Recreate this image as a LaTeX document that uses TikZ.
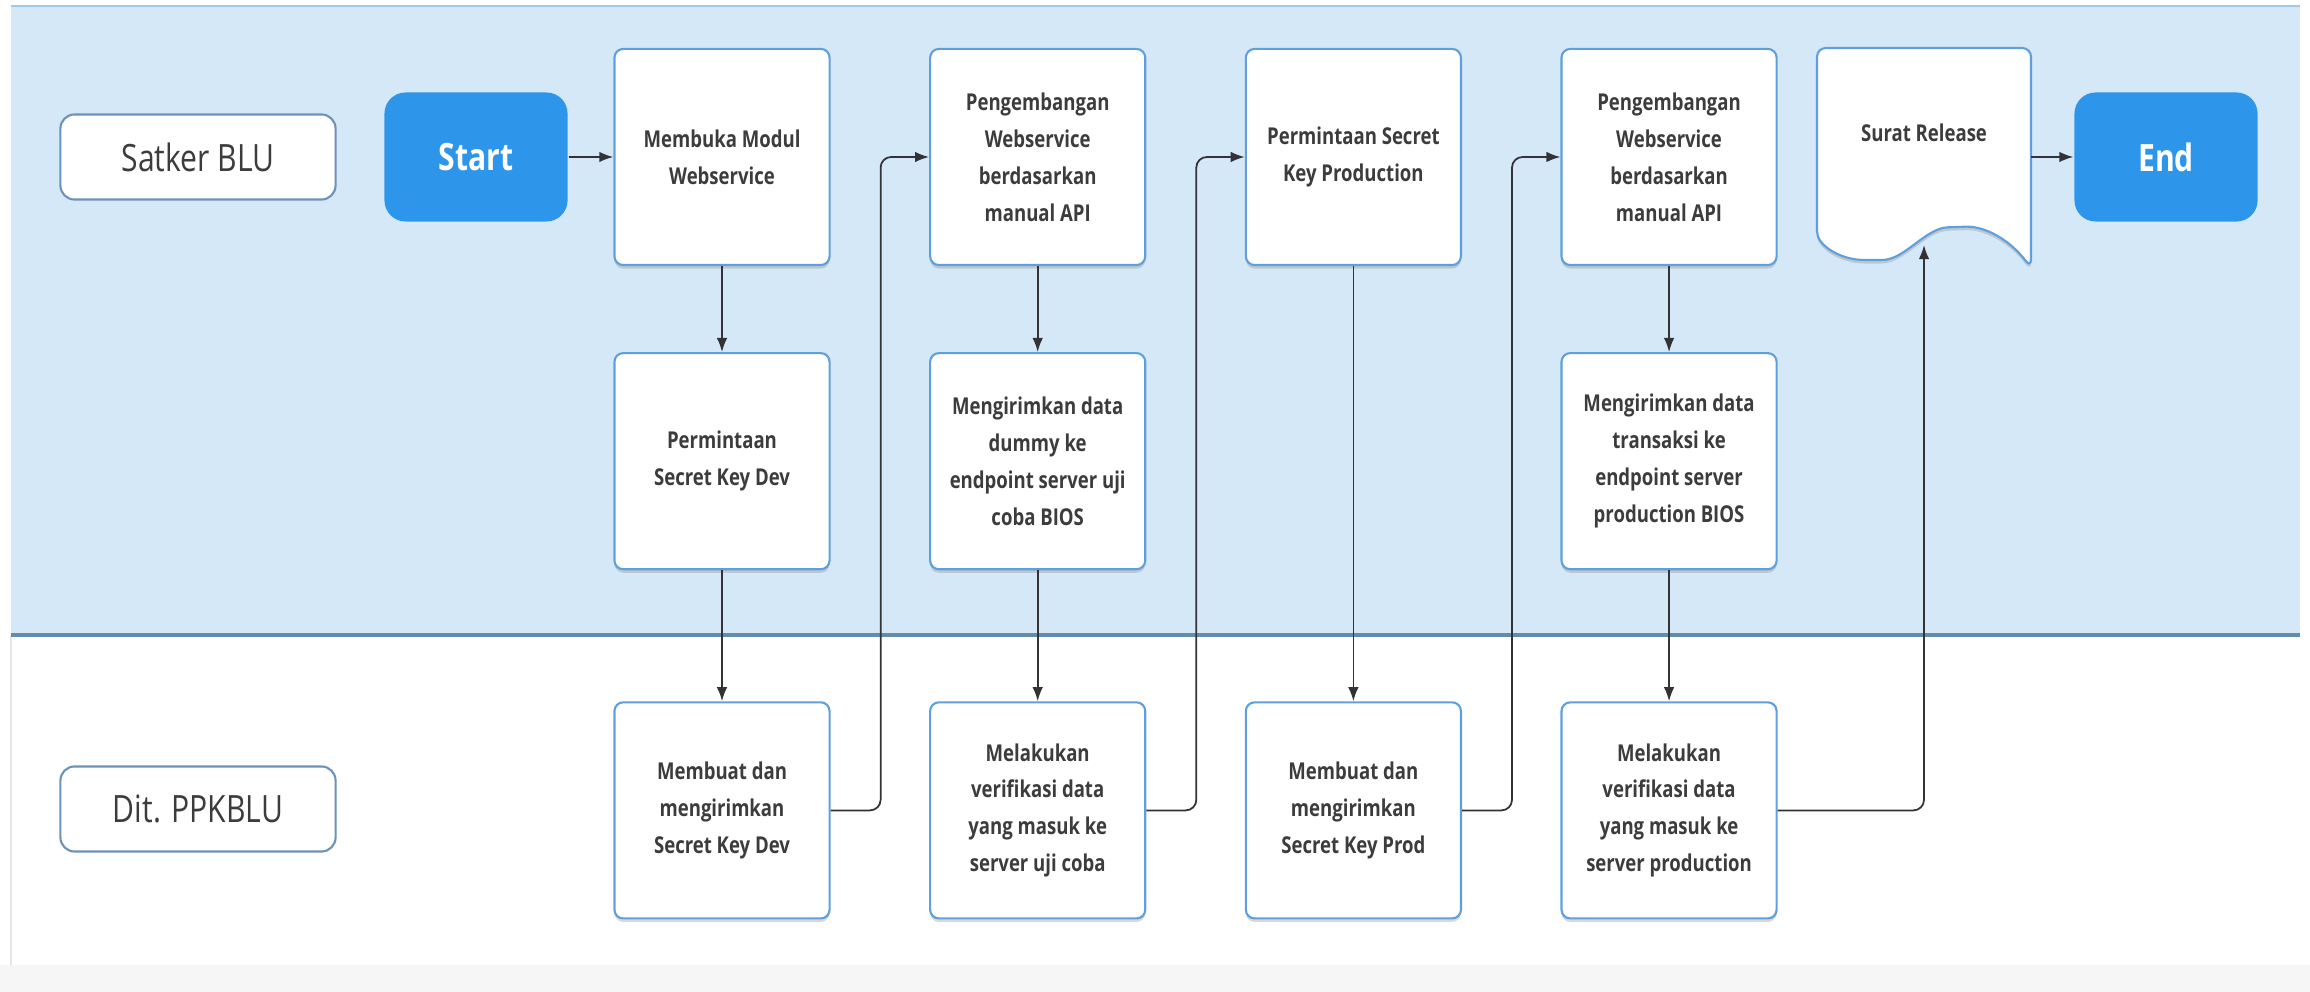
\documentclass[tikz,border=0pt]{standalone}
\usepackage{fontspec}
\setmainfont{Open Sans}[FakeStretch=0.8]
\usepackage{tikz}
\usepackage{xcolor}
\usetikzlibrary{shadows}
\usetikzlibrary{positioning, fit, arrows.meta}

\definecolor{laneblue}{RGB}{213,232,248}
\definecolor{laneedge}{RGB}{160,200,232}
\definecolor{divider}{RGB}{100,140,175}
\definecolor{boxline}{RGB}{95,160,220}
\definecolor{termblue}{RGB}{45,150,235}
\definecolor{txtgray}{RGB}{60,60,60}
\definecolor{arrgray}{RGB}{50,50,55}

\begin{document}
\begin{tikzpicture}[x=0.01cm, y=-0.01cm, node distance={3.155cm}, semithick,
    proc/.style = {draw=boxline, fill=white, rounded corners=2.5pt, minimum width=2.15cm, minimum height=2.16cm, align=center, text=txtgray, font=\fontsize{6.6}{10.5}\selectfont\bfseries, drop shadow={shadow xshift=0pt, shadow yshift=-1pt, opacity=0.3}},
    term/.style = {fill=termblue, rounded corners=6pt, minimum width=1.83cm, minimum height=1.29cm, text=white, font=\fontsize{10.7}{12}\selectfont\bfseries},
    lane/.style = {draw=boxline!60!gray, fill=white, rounded corners=4pt, minimum width=2.75cm, minimum height=0.85cm, text=txtgray, font=\fontsize{10.7}{12}\selectfont},
    doctxt/.style = {text=txtgray, font=\fontsize{6.6}{10.5}\selectfont\bfseries},
    arr/.style = {-{Latex[length=4pt, width=3pt]}, line width=0.5pt, draw=arrgray},
    link/.style = {arr, rounded corners=3pt}]
    % Lanes
    \useasboundingbox (0,0) rectangle (2310,992);
    \fill[white] (0,0) rectangle (2310,992);
    \fill[laneblue] (11,6) rectangle (2300,635);
    \fill[gray!7] (0,965) rectangle (2310,992);
    \draw[laneedge] (11,6) -- (2300,6);
    \draw[gray!20] (11,635) -- (11,965);
    \draw[divider, line width=1pt] (11,635) -- (2300,635);

    % Nodes
    \node[lane] (satker) at (198,157) {Satker BLU};
    \node[lane] (dit) at (198,809) {Dit. PPKBLU};
    \node[term] (start) at (476,157) {Start};
    \node[proc] (modul) at (722,157) {Membuka Modul\\Webservice};
    \node[proc] (devreq) [below of=modul, node distance=3.04cm] {Permintaan\\Secret Key Dev};
    \node[proc] (devkey) [below of=devreq, node distance=3.49cm] {Membuat dan\\mengirimkan\\Secret Key Dev};
    \node[proc] (apidev) [right of=modul] {Pengembangan\\Webservice\\berdasarkan\\manual API};
    \node[proc] (dummy) [below of=apidev, node distance=3.04cm] {Mengirimkan data\\dummy ke\\endpoint server uji\\coba BIOS};
    \node[proc] (ujicoba) [below of=dummy, node distance=3.49cm] {Melakukan\\verifikasi data\\yang masuk ke\\server uji coba};
    \node[proc] (prodreq) [right of=apidev] {Permintaan Secret\\Key Production};
    \node[proc] (prodkey) [below of=prodreq, node distance=6.53cm] {Membuat dan\\mengirimkan\\Secret Key Prod};
    \node[proc] (apiprod) [right of=prodreq] {Pengembangan\\Webservice\\berdasarkan\\manual API};
    \node[proc] (transaksi) [below of=apiprod, node distance=3.04cm] {Mengirimkan data\\transaksi ke\\endpoint server\\production BIOS};
    \node[proc] (verprod) [below of=transaksi, node distance=3.49cm] {Melakukan\\verifikasi data\\yang masuk ke\\server production};
    \node[term] (end) at (2166,157) {End};

    % Document shape
    \filldraw[draw=boxline, fill=white, rounded corners=2.5pt, drop shadow={shadow xshift=0pt, shadow yshift=-1pt, opacity=0.3}]
        (1817,223) -- (1817,48) -- (2031,48) -- (2031,268)
        .. controls (2010,240) and (1985,226) .. (1957,227)
        .. controls (1925,228) and (1905,260) .. (1873,260)
        .. controls (1840,260) and (1817,245) .. cycle;
    \node[doctxt] (release) at (1924,133) {Surat Release};
    \coordinate (docbot) at (1924,245);
    \coordinate (docright) at (2031,157);

    % Lines
    \draw[arr] (start) -- (modul);
    \draw[arr] (modul) -- (devreq);
    \draw[arr] (devreq) -- (devkey);
    \draw[link] (devkey.east) -- ++(50,0) |- (apidev.west);
    \draw[arr] (apidev) -- (dummy);
    \draw[arr] (dummy) -- (ujicoba);
    \draw[link] (ujicoba.east) -- ++(50,0) |- (prodreq.west);
    \draw[arr] (prodreq) -- (prodkey);
    \draw[link] (prodkey.east) -- ++(50,0) |- (apiprod.west);
    \draw[arr] (apiprod) -- (transaksi);
    \draw[arr] (transaksi) -- (verprod);
    \draw[link] (verprod.east) -| (docbot);
    \draw[arr] (docright) -- (end);
\end{tikzpicture}
\end{document}
